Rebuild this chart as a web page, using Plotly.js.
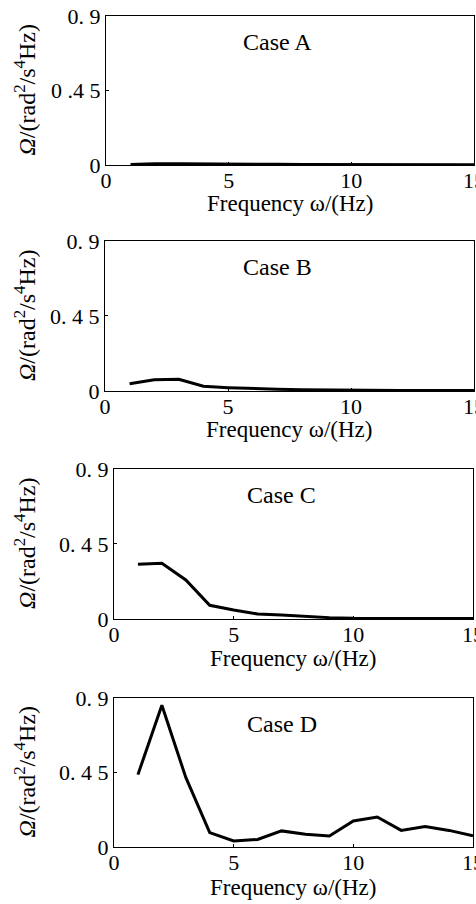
<!DOCTYPE html>
<html>
<head>
<meta charset="utf-8">
<script src="https://cdn.plot.ly/plotly-3.0.1.min.js"></script>
<style>html,body{margin:0;padding:0;background:#fff;}#chart{width:476px;height:904px;}</style>
</head>
<body>
<div id="chart"></div>
<script>
const freq = [1,2,3,4,5,6,7,8,9,10,11,12,13,14,15];
const caseA = [0.003,0.008,0.008,0.006,0.005,0.004,0.004,0.003,0.003,0.003,0.002,0.002,0.002,0.002,0.002];
const caseB = [0.044,0.068,0.070,0.028,0.020,0.014,0.010,0.008,0.006,0.005,0.004,0.003,0.003,0.003,0.003];
const caseC = [0.328,0.334,0.234,0.082,0.054,0.030,0.024,0.014,0.008,0.004,0.003,0.003,0.003,0.003,0.003];
const caseD = [0.437,0.856,0.420,0.087,0.036,0.045,0.097,0.077,0.066,0.157,0.181,0.100,0.123,0.100,0.068];
const caseNames = ['Case A','Case B','Case C','Case D'];
const xTickVals = [0,5,10,15];
const xTickText = ['0','5','10','15'];
const yTickVals = [0,0.45,0.9];
const yTickTextA = ['0','0 .4 5','0. 9'];
const yTickTextOther = ['0','0. 4 5','0. 9'];
const xTitle = 'Frequency ω/(Hz)';
const yTitle = '<i>Ω</i>/(rad<sup>2</sup>/s<sup>4</sup>Hz)';

const series = [caseA, caseB, caseC, caseD];
const xDomains = [[0.2227,0.9958],[0.2206,0.9958],[0.2395,0.9937],[0.2395,0.9937]];
const yDomains = [[0.8175,0.9823],[0.5675,0.7334],[0.3153,0.4812],[0.0631,0.2279]];
const yTitleShift = [-81, -80, -89, -89];
const xTitleShift = [-39, -39, -40, -41];

const fontFam = 'Liberation Serif, Times New Roman, serif';
const data = [];
const layout = {
  width: 476, height: 904,
  margin: {l:0, r:0, t:0, b:0},
  paper_bgcolor: '#fff', plot_bgcolor: '#fff',
  showlegend: false,
  font: {family: fontFam, color: '#000', size: 22},
  annotations: []
};
series.forEach((ys, i) => {
  const n = i === 0 ? '' : String(i + 1);
  data.push({
    x: freq, y: ys, type: 'scatter', mode: 'lines',
    line: {color: '#000', width: 3},
    xaxis: 'x' + n, yaxis: 'y' + n, cliponaxis: false
  });
  layout['xaxis' + n] = {
    domain: xDomains[i], anchor: 'y' + n, range: [0, 15],
    tickvals: xTickVals, ticktext: xTickText,
    ticks: 'inside', ticklen: 3, tickcolor: '#000',
    showline: true, linecolor: '#000', linewidth: 1, mirror: true,
    showgrid: false, zeroline: false, ticklabeloverflow: 'allow',
    ticklabelstandoff: -4,
    tickfont: {family: fontFam, size: 22, color: '#000'}
  };
  layout['yaxis' + n] = {
    domain: yDomains[i], anchor: 'x' + n, range: [0, 0.9],
    tickvals: yTickVals, ticktext: i === 0 ? yTickTextA : yTickTextOther,
    ticks: 'inside', ticklen: 3, tickcolor: '#000',
    showline: true, linecolor: '#000', linewidth: 1, mirror: true,
    showgrid: false, zeroline: false, ticklabeloverflow: 'allow',
    tickfont: {family: fontFam, size: 22, color: '#000'}
  };
  layout.annotations.push({
    xref: 'x' + n, yref: 'y' + n, x: 7, y: 0.745,
    text: caseNames[i], showarrow: false,
    font: {family: fontFam, size: 24, color: '#000'}
  });
  layout.annotations.push({
    xref: 'x' + n + ' domain', yref: 'y' + n + ' domain', x: 0.5, y: 0,
    yshift: xTitleShift[i], xanchor: 'center', yanchor: 'middle',
    text: xTitle, showarrow: false,
    font: {family: fontFam, size: 23, color: '#000'}
  });
  layout.annotations.push({
    xref: 'x' + n + ' domain', yref: 'y' + n + ' domain', x: 0, y: 0.5,
    xshift: yTitleShift[i], xanchor: 'center', yanchor: 'middle', textangle: -90,
    text: yTitle, showarrow: false,
    font: {family: fontFam, size: 24, color: '#000'}
  });
});
Plotly.newPlot('chart', data, layout, {displayModeBar: false, staticPlot: true});
</script>
</body>
</html>
